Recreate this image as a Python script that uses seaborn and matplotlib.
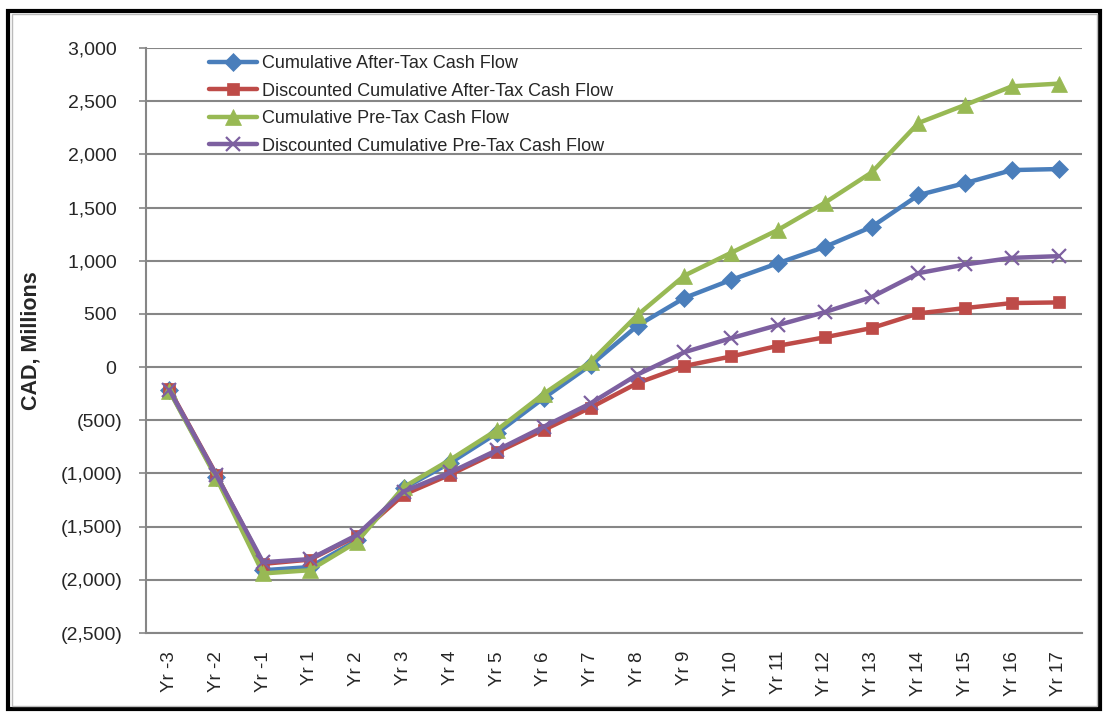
import matplotlib
matplotlib.use("Agg")
import matplotlib.pyplot as plt
from matplotlib.patches import Rectangle
from matplotlib.ticker import FuncFormatter, MultipleLocator
import numpy as np
import pandas as pd
import seaborn as sns

years = ["Yr -3", "Yr -2", "Yr -1", "Yr 1", "Yr 2", "Yr 3", "Yr 4", "Yr 5", "Yr 6", "Yr 7",
         "Yr 8", "Yr 9", "Yr 10", "Yr 11", "Yr 12", "Yr 13", "Yr 14", "Yr 15", "Yr 16", "Yr 17"]

cum_after_tax = [-220, -1030, -1910, -1880, -1630, -1140, -900, -620, -290, 20,
                 390, 650, 820, 977, 1130, 1318, 1617, 1730, 1852, 1862]
disc_cum_after_tax = [-210, -1010, -1850, -1810, -1590, -1200, -1010, -800, -590, -380,
                      -150, 10, 100, 200, 280, 367, 505, 555, 602, 608]
cum_pre_tax = [-225, -1040, -1940, -1910, -1645, -1130, -870, -590, -250, 50,
               490, 860, 1075, 1290, 1545, 1830, 2295, 2465, 2640, 2665]
disc_cum_pre_tax = [-215, -1015, -1835, -1805, -1580, -1170, -990, -780, -560, -340,
                    -70, 140, 272, 395, 517, 658, 883, 965, 1027, 1043]

series_names = ["Cumulative After-Tax Cash Flow",
                "Discounted Cumulative After-Tax Cash Flow",
                "Cumulative Pre-Tax Cash Flow",
                "Discounted Cumulative Pre-Tax Cash Flow"]
series_values = [cum_after_tax, disc_cum_after_tax, cum_pre_tax, disc_cum_pre_tax]
colors = ["#4A7EBB", "#BE4B48", "#98B954", "#7D60A0"]
markers = ["D", "s", "^", "x"]
marker_sizes = [9, 9, 11, 10]

sns.set_style("white")
plt.rcParams["font.family"] = ["Liberation Sans", "DejaVu Sans"]

fig = plt.figure(figsize=(11.08, 7.13), dpi=100)
ax = fig.add_axes([0.1318, 0.1122, 0.845, 0.8205])

pos = np.arange(len(years))
for name, vals, c, m, ms in zip(series_names, series_values, colors, markers, marker_sizes):
    df = pd.DataFrame({"pos": pos, "val": vals})
    sns.lineplot(data=df, x="pos", y="val", ax=ax, color=c, linewidth=3.2,
                 marker=m, markersize=ms, markeredgecolor=c,
                 markeredgewidth=1.6 if m == "x" else 0.5, label=name)

ax.set_xlim(-0.5, len(years) - 0.5)
ax.set_ylim(-2500, 3000)
ax.yaxis.set_major_locator(MultipleLocator(500))


def fmt(v, _):
    # accounting style: negatives in parentheses, positives padded to align
    v = int(round(v))
    if v < 0:
        return "({:,})".format(-v)
    return "{:,} ".format(v)


ax.yaxis.set_major_formatter(FuncFormatter(fmt))
ax.set_xticks(pos)
ax.set_xticklabels(years, rotation=90, fontsize=13.5)
ax.tick_params(axis="x", length=0, pad=13)
ax.tick_params(axis="y", labelsize=14, length=5, width=1.2, color="#868686",
               direction="out", left=True, pad=12)

ax.grid(axis="y", color="#868686", linewidth=1.5)
ax.grid(axis="x", visible=False)
ax.set_axisbelow(True)
for side in ["top", "right"]:
    ax.spines[side].set_visible(False)
for side in ["left", "bottom"]:
    ax.spines[side].set_color("#868686")
    ax.spines[side].set_linewidth(1.5)

ax.set_xlabel("")
ax.set_ylabel("CAD, Millions", fontsize=15.5, fontweight="bold")
ax.yaxis.set_label_coords(-0.112, 0.5)

leg = ax.legend(loc="upper left", bbox_to_anchor=(0.06, 1.0), frameon=False,
                fontsize=13, handlelength=2.66, handletextpad=0.25, labelspacing=0.58,
                borderaxespad=0)
for line in leg.get_lines():
    line.set_linewidth(3.2)

# outer chart frame
fig.patches.append(Rectangle((0.0075, 0.006), 0.9855, 0.978, transform=fig.transFigure,
                             fill=False, edgecolor="black", linewidth=3))
fig.patches.append(Rectangle((0.0105, 0.0105), 0.9795, 0.9695, transform=fig.transFigure,
                             fill=False, edgecolor="#BBBBBB", linewidth=1))

fig.savefig("out.png", dpi=100)
